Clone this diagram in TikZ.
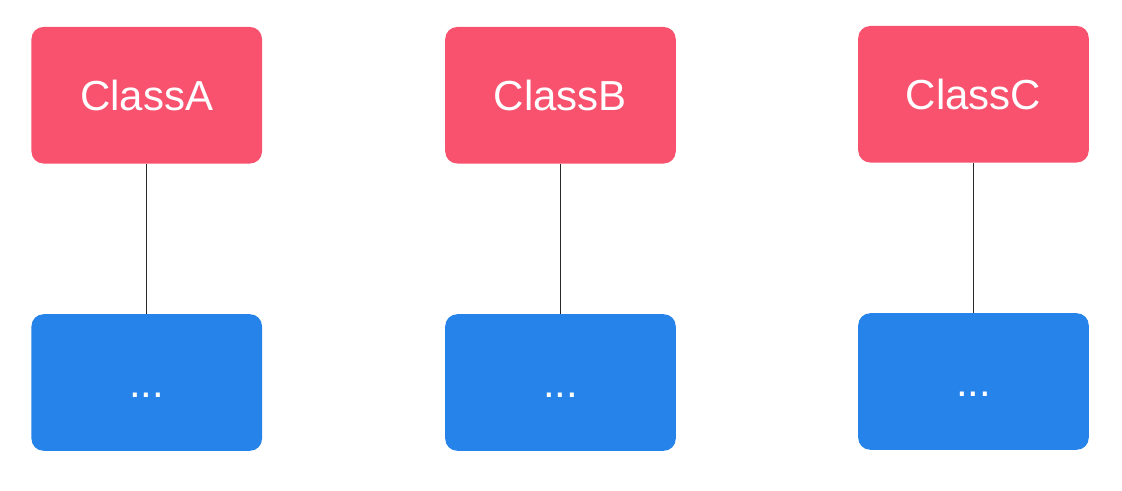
\documentclass[tikz,border=0pt]{standalone}
\usepackage{fontspec}
\setmainfont{Liberation Sans}
\definecolor{classred}{RGB}{248,82,111}
\definecolor{itemblue}{RGB}{38,131,234}
\definecolor{linkgray}{RGB}{40,40,40}
\tikzset{
  box/.style={rectangle, rounded corners=9pt, draw=none, minimum width=172.9pt, minimum height=102.4pt,
    inner sep=0pt, text=white, font=\fontsize{31.5pt}{36pt}\selectfont, text height=22.6pt, text depth=0pt},
  classbox/.style={box, fill=classred},
  itembox/.style={box, fill=itemblue},
  link/.style={draw=linkgray, line width=0.9pt}
}
\begin{document}
\begin{tikzpicture}[x=0.75pt, y=-0.75pt]
\useasboundingbox (0,0) rectangle (1122,491);
\node[classbox] (ca) at (146.75,95.25) {ClassA};
\node[classbox] (cb) at (560.5,95.25) {ClassB};
\node[classbox] (cc) at (973.5,94.25) {ClassC};
\node[itembox] (ia) at (146.75,382.5) {...};
\node[itembox] (ib) at (560.5,382.5) {...};
\node[itembox] (ic) at (973.5,381.5) {...};
\draw[link] (ca.south) -- (ia.north);
\draw[link] (cb.south) -- (ib.north);
\draw[link] (cc.south) -- (ic.north);
\end{tikzpicture}
\end{document}
